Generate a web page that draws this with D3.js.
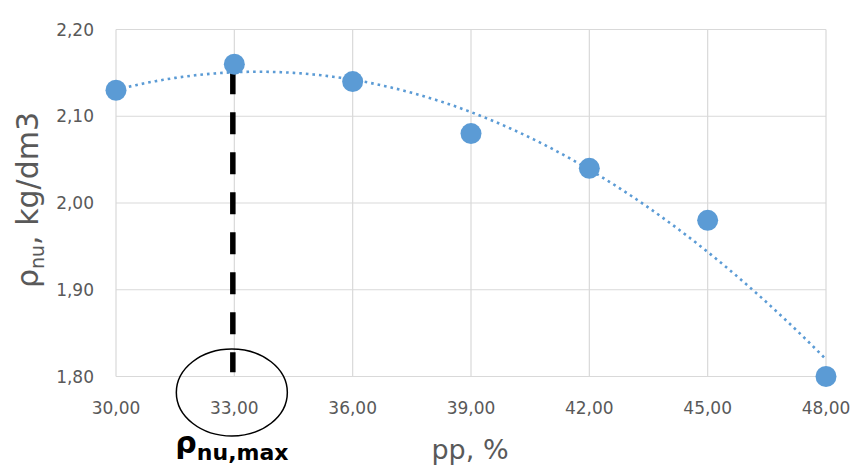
<!DOCTYPE html>
<html>
<head>
<meta charset="utf-8">
<script src="https://cdn.jsdelivr.net/npm/d3@7"></script>
<style>
  body { margin: 0; background: #fff; }
  svg { display: block; }
</style>
</head>
<body>
<div id="chart"></div>
<script>
/**
 * CONSTANTS AND DATA
 * */
const width = 854,
  height = 466,
  margin = { top: 29.5, right: 28, bottom: 89.5, left: 116 };

// pp, % (x) and density (y)
const ppValues = [30, 33, 36, 39, 42, 45, 48];
const rhoValues = [2.13, 2.16, 2.14, 2.08, 2.04, 1.98, 1.80];

const xTicks = [30, 33, 36, 39, 42, 45, 48];
const yTicks = [1.8, 1.9, 2.0, 2.1, 2.2];

// the marked optimum and the circled tick
const maxPp = 33;
const markerBottom = 1.805;

const grey = "#595959",
  blue = "#5b9bd5",
  gridColor = "#d9d9d9";

const fmt = d => d3.format(".2f")(d).replace(".", ",");

/**
 * SCALES
 * */
const x = d3.scaleLinear().domain([30, 48]).range([margin.left, width - margin.right]);
const y = d3.scaleLinear().domain([1.8, 2.2]).range([height - margin.bottom, margin.top]);

// polynomial (order 2) trendline, least squares like Excel does it
function quadFit(xs, ys) {
  let s = [0, 0, 0, 0, 0], t = [0, 0, 0];
  xs.forEach((xi, i) => {
    for (let k = 0; k < 5; k++) s[k] += Math.pow(xi, k);
    for (let k = 0; k < 3; k++) t[k] += Math.pow(xi, k) * ys[i];
  });
  // solve 3x3 system with cramer
  const m = [[s[0], s[1], s[2]], [s[1], s[2], s[3]], [s[2], s[3], s[4]]];
  const det = a => a[0][0] * (a[1][1] * a[2][2] - a[1][2] * a[2][1])
    - a[0][1] * (a[1][0] * a[2][2] - a[1][2] * a[2][0])
    + a[0][2] * (a[1][0] * a[2][1] - a[1][1] * a[2][0]);
  const D = det(m);
  const coef = [0, 1, 2].map(c => det(m.map((row, r) => row.map((v, j) => (j === c ? t[r] : v)))) / D);
  return v => coef[0] + coef[1] * v + coef[2] * v * v;
}
const trend = quadFit(ppValues, rhoValues);

/**
 * DRAW
 * */
const svg = d3.select("#chart").append("svg")
  .attr("width", width)
  .attr("height", height);

// grid
svg.append("g")
  .selectAll("line.h")
  .data(yTicks)
  .join("line")
  .attr("class", "h")
  .attr("x1", x(30)).attr("x2", x(48))
  .attr("y1", d => y(d)).attr("y2", d => y(d))
  .attr("stroke", gridColor)
  .attr("stroke-width", 1.2);

svg.append("g")
  .selectAll("line.v")
  .data(xTicks)
  .join("line")
  .attr("class", "v")
  .attr("y1", y(1.8)).attr("y2", y(2.2))
  .attr("x1", d => x(d)).attr("x2", d => x(d))
  .attr("stroke", gridColor)
  .attr("stroke-width", 1.2);

// tick labels
svg.append("g")
  .selectAll("text")
  .data(yTicks)
  .join("text")
  .attr("x", margin.left - 22)
  .attr("y", d => y(d) + 6)
  .attr("text-anchor", "end")
  .attr("font-family", "DejaVu Sans")
  .attr("font-size", 17)
  .attr("fill", grey)
  .text(fmt);

svg.append("g")
  .selectAll("text")
  .data(xTicks)
  .join("text")
  .attr("x", d => x(d))
  .attr("y", y(1.8) + 37)
  .attr("text-anchor", "middle")
  .attr("font-family", "DejaVu Sans")
  .attr("font-size", 17)
  .attr("fill", grey)
  .text(fmt);

// trendline
const trendX = d3.range(30, 48.001, 0.1);
svg.append("path")
  .datum(trendX)
  .attr("fill", "none")
  .attr("stroke", blue)
  .attr("stroke-width", 2.6)
  .attr("stroke-dasharray", "2.6,4")
  .attr("d", d3.line().x(d => x(d)).y(d => y(trend(d))));

// dashed marker
svg.append("line")
  .attr("x1", x(maxPp) - 1.5).attr("x2", x(maxPp) - 1.5)
  .attr("y1", y(trend(maxPp)))
  .attr("y2", y(markerBottom))
  .attr("stroke", "#000")
  .attr("stroke-width", 5.5)
  .attr("stroke-dasharray", "22,18");

// points
svg.append("g")
  .selectAll("circle")
  .data(ppValues.map((d, i) => [d, rhoValues[i]]))
  .join("circle")
  .attr("cx", d => x(d[0]))
  .attr("cy", d => y(d[1]))
  .attr("r", 10.5)
  .attr("fill", blue);

// ellipse around the 33,00 tick
svg.append("ellipse")
  .attr("cx", x(maxPp) - 2.5)
  .attr("cy", y(1.8) + 16)
  .attr("rx", 55.5)
  .attr("ry", 43.5)
  .attr("fill", "none")
  .attr("stroke", "#000")
  .attr("stroke-width", 1.5);

// rho nu,max label
const lab = svg.append("text")
  .attr("x", x(maxPp) - 59)
  .attr("y", 453)
  .attr("font-family", "DejaVu Sans")
  .attr("font-weight", "bold")
  .attr("fill", "#000");
lab.append("tspan").attr("font-size", 30).text("ρ");
lab.append("tspan").attr("font-size", 22).attr("dy", 7).text("nu,max");

// axis titles
svg.append("text")
  .attr("x", 470)
  .attr("y", 459)
  .attr("text-anchor", "middle")
  .attr("font-family", "DejaVu Sans")
  .attr("font-size", 27)
  .attr("fill", grey)
  .text("pp, %");

const yt = svg.append("text")
  .attr("transform", "translate(38,200) rotate(-90)")
  .attr("text-anchor", "middle")
  .attr("font-family", "DejaVu Sans")
  .attr("font-size", 30)
  .attr("fill", grey);
yt.append("tspan").text("ρ");
yt.append("tspan").attr("font-size", 19).attr("dy", 6).text("nu");
yt.append("tspan").attr("dy", -6).text(", kg/dm3");
</script>
</body>
</html>
